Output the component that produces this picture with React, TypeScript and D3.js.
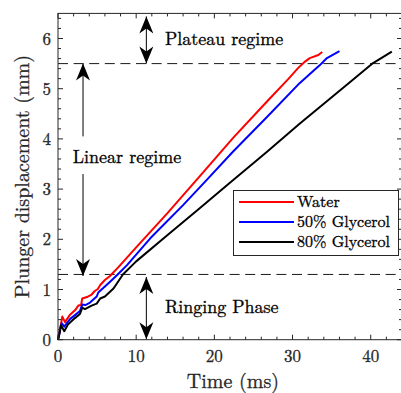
import React from 'react';
import * as d3 from 'd3';

// time (ms) / displacement (mm)
const waterT = [0, 0.25, 0.55, 0.9, 1.5, 2.2, 2.6, 2.95, 3.1, 3.7, 4.3, 4.7, 5.1, 5.4, 6.0, 6.65, 7.7, 10, 14, 18.2, 22.4, 26.7, 29.5, 30.7, 31.6, 32.2, 33.3, 33.8];
const waterV = [0, 0.2, 0.46, 0.35, 0.49, 0.59, 0.68, 0.69, 0.82, 0.85, 0.9, 0.97, 1.01, 1.09, 1.19, 1.27, 1.44, 1.84, 2.52, 3.27, 4.02, 4.74, 5.2, 5.41, 5.54, 5.61, 5.67, 5.73];

const gly50T = [0, 0.22, 0.47, 0.8, 1.53, 2.17, 2.8, 3.1, 3.5, 4.1, 4.95, 5.15, 6.0, 6.9, 7.5, 8.8, 11.8, 16, 19, 22.4, 26.7, 30.9, 33.5, 34.4, 36];
const gly50V = [0, 0.15, 0.33, 0.26, 0.41, 0.49, 0.57, 0.7, 0.69, 0.74, 0.86, 0.94, 1.06, 1.19, 1.28, 1.48, 2.02, 2.68, 3.18, 3.75, 4.43, 5.11, 5.47, 5.61, 5.75];

const gly80T = [0, 0.18, 0.38, 0.8, 1.3, 2.17, 2.8, 3.1, 3.45, 4.3, 4.95, 5.4, 6.0, 7.1, 8.3, 10, 13.9, 18.2, 21.8, 26.7, 30.9, 34, 37.1, 40.3, 42.7];
const gly80V = [0, 0.12, 0.29, 0.17, 0.31, 0.43, 0.51, 0.64, 0.61, 0.68, 0.72, 0.82, 0.86, 1.02, 1.3, 1.56, 2.07, 2.63, 3.1, 3.74, 4.3, 4.7, 5.1, 5.51, 5.74];

const seriesNames = ['Water', '50% Glycerol', '80% Glycerol'];
const seriesColors = ['#ff0000', '#0000ff', '#000000'];

const xTicks = [0, 10, 20, 30, 40];
const yTicks = [0, 1, 2, 3, 4, 5, 6];

// regime boundaries (mm)
const plateauLevel = 5.5;
const ringingLevel = 1.3;

const W = 401, H = 393;
const font = '"Latin Modern Roman", "Liberation Serif", "DejaVu Serif"';
const axisColor = '#262626';

export default function App() {
  const x = d3.scaleLinear().domain([0, 44]).range([58, 402]);
  const y = d3.scaleLinear().domain([0, 6.5]).range([339.7, 13.4]);
  const [x0, x1] = x.range();
  const [y0, y1] = y.range();

  const series = [
    waterT.map((t, i) => [t, waterV[i]]),
    gly50T.map((t, i) => [t, gly50V[i]]),
    gly80T.map((t, i) => [t, gly80V[i]]),
  ] as [number, number][][];

  const line = d3.line<[number, number]>().x(d => x(d[0])).y(d => y(d[1]));

  const xMinor = d3.range(0, 44.01, 2);
  const yMinor = d3.range(0, 6.41, 0.2);

  const head = 'M0,0 L-17,-7 L-12,0 L-17,7 Z';

  const arrowX1 = x(11.3);
  const arrowX2 = x(3.2);
  // slight stroke so the thin LaTeX face reads as dark as the raster original
  const txt = { fontFamily: font, stroke: 'currentColor', strokeWidth: 0.3 };

  return (
    <div style={{ position: 'fixed', left: 0, top: 0 }}>
      <svg width={W} height={H} style={{ display: 'block', background: '#fff' }}>
        <defs>
          <marker id="ah" viewBox="-18 -8 19 16" refX="0" refY="0" markerWidth="19" markerHeight="16"
            markerUnits="userSpaceOnUse" orient="auto-start-reverse">
            <path d={head} fill="#000" />
          </marker>
        </defs>

        {/* dashed regime lines */}
        {[plateauLevel, ringingLevel].map(v => (
          <line key={v} x1={x0} x2={x1} y1={y(v)} y2={y(v)} stroke="#1a1a1a" strokeWidth={1} strokeDasharray="10,5.6" />
        ))}

        {/* data */}
        {series.map((s, i) => (
          <path key={i} d={line(s) ?? ''} fill="none" stroke={seriesColors[i]} strokeWidth={2} strokeLinejoin="round" />
        ))}

        {/* axes frame */}
        <rect x={x0} y={y1} width={x1 - x0} height={y0 - y1} fill="none" stroke={axisColor} strokeWidth={1} />
        {xMinor.map(t => {
          const len = t % 10 === 0 ? 5 : 3;
          return (
            <g key={'xt' + t} stroke={axisColor} strokeWidth={1}>
              <line x1={x(t)} x2={x(t)} y1={y0} y2={y0 - len} />
              <line x1={x(t)} x2={x(t)} y1={y1} y2={y1 + len} />
            </g>
          );
        })}
        {yMinor.map((v, i) => {
          const len = i % 5 === 0 ? 5 : 3;
          return (
            <g key={'yt' + i} stroke={axisColor} strokeWidth={1}>
              <line x1={x0} x2={x0 + len} y1={y(v)} y2={y(v)} />
              <line x1={x1} x2={x1 - len} y1={y(v)} y2={y(v)} />
            </g>
          );
        })}
        <g color={axisColor}>
          {xTicks.map(t => (
            <text key={'xl' + t} x={x(t)} y={362} textAnchor="middle" style={txt} fontSize={17} fill={axisColor}>{t}</text>
          ))}
          {yTicks.map(v => (
            <text key={'yl' + v} x={51} y={y(v) + 6} textAnchor="end" style={txt} fontSize={17} fill={axisColor}>{v}</text>
          ))}
          <text x={233} y={388} textAnchor="middle" style={txt} fontSize={20} fill={axisColor}>Time (ms)</text>
          <text transform={`translate(29,${(y0 + y1) / 2}) rotate(-90)`} textAnchor="middle" style={txt} fontSize={20} fill={axisColor}>Plunger displacement (mm)</text>
        </g>

        {/* annotations */}
        <g color="#000">
          <line x1={arrowX1} x2={arrowX1} y1={y(6.44)} y2={y(plateauLevel)} stroke="#000" strokeWidth={1} markerStart="url(#ah)" markerEnd="url(#ah)" />
          <text x={165} y={45} style={txt} fontSize={18} fill="#000">Plateau regime</text>

          <line x1={arrowX2} x2={arrowX2} y1={y(4.05)} y2={y(plateauLevel)} stroke="#000" strokeWidth={1} markerEnd="url(#ah)" />
          <line x1={arrowX2} x2={arrowX2} y1={y(3.3)} y2={y(1.27)} stroke="#000" strokeWidth={1} markerEnd="url(#ah)" />
          <text x={127} y={163} textAnchor="middle" style={txt} fontSize={18} fill="#000">Linear regime</text>

          <line x1={arrowX1} x2={arrowX1} y1={y(1.25)} y2={y(0.01)} stroke="#000" strokeWidth={1} markerStart="url(#ah)" markerEnd="url(#ah)" />
          <text x={165} y={313} style={txt} fontSize={18} fill="#000">Ringing Phase</text>
        </g>

        {/* legend */}
        <g color="#000">
          <rect x={233.5} y={190.5} width={165} height={65} fill="#fff" stroke={axisColor} strokeWidth={1} />
          {seriesNames.map((n, i) => (
            <g key={n} transform={`translate(0,${202 + i * 20})`}>
              <line x1={239} x2={294} y1={0} y2={0} stroke={seriesColors[i]} strokeWidth={2} />
              <text x={297} y={5} style={txt} fontSize={16} fill="#000">{n}</text>
            </g>
          ))}
        </g>
      </svg>
    </div>
  );
}
